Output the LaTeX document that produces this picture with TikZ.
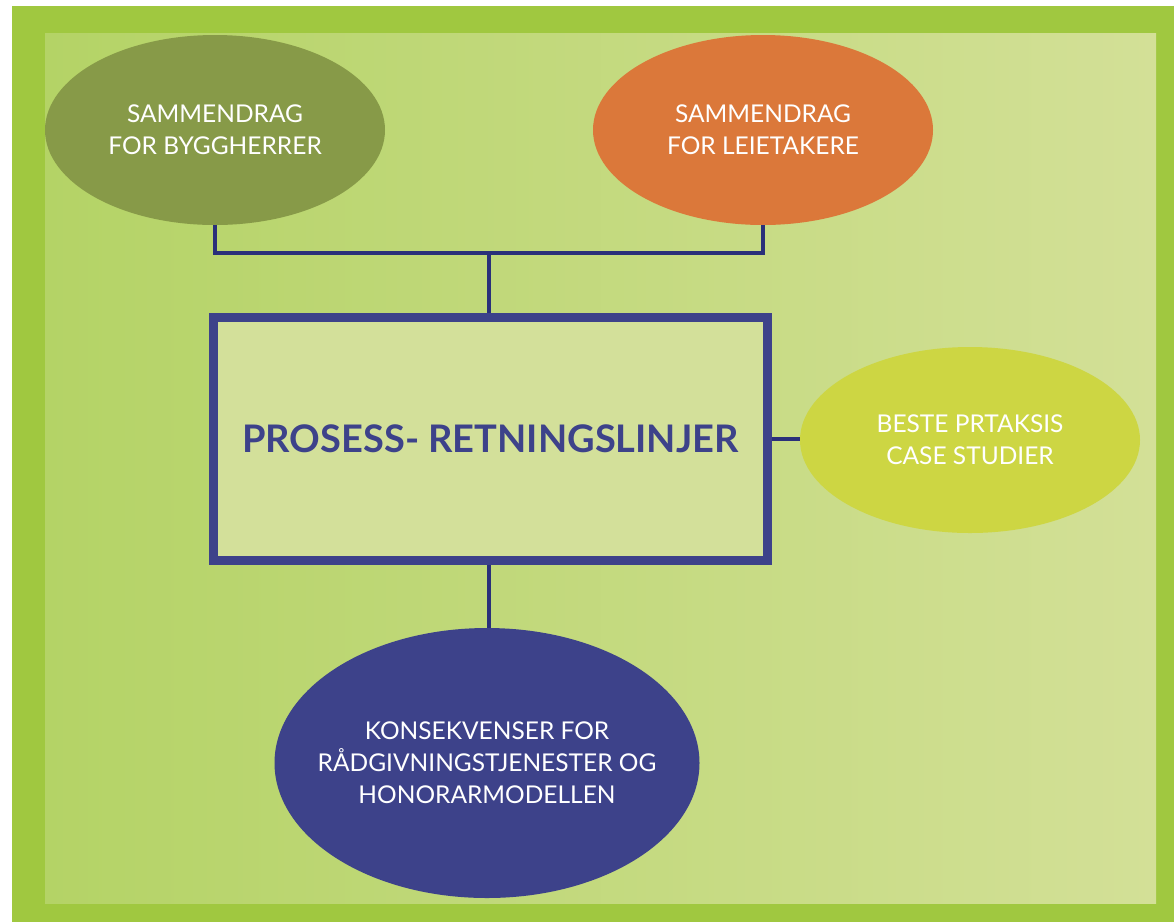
\documentclass[tikz,border=0pt]{standalone}
\usepackage{fontspec}
\setmainfont{Lato}
\usetikzlibrary{shapes.geometric}
\definecolor{outergreen}{HTML}{A0C840}
\definecolor{panelL}{HTML}{B4D366}
\definecolor{panelR}{HTML}{D3E097}
\definecolor{olive}{HTML}{879A48}
\definecolor{orangeb}{HTML}{DB783A}
\definecolor{limeb}{HTML}{CDD643}
\definecolor{navy}{HTML}{3D428A}
\definecolor{boxfill}{HTML}{D3E09A}
\definecolor{conn}{HTML}{2A307A}
\tikzset{
  x=1pt, y=-1pt,
  bubble/.style={ellipse, inner sep=0pt},
  btext/.style={text=white, align=center, inner sep=0pt,
    font=\fontsize{24.5}{32}\selectfont},
  mainbox/.style={draw=navy, line width=9pt, fill=boxfill, inner sep=0pt,
    minimum width=554pt, minimum height=243pt, text=navy,
    font=\fontsize{38}{44}\selectfont\bfseries},
  link/.style={draw=conn, line width=3.2pt}
}
\begin{document}
\begin{tikzpicture}
\useasboundingbox (0,0) rectangle (1174,922);
\fill[white] (0,0) rectangle (1174,922);
\fill[outergreen] (12,6) rectangle (1174,922);
\shade[left color=panelL, right color=panelR] (45,33) rectangle (1156,903);

\node[bubble, fill=olive, minimum width=340pt, minimum height=190pt] (lb) at (215,130) {};
\node[btext] (lbt) at (lb.center) {SAMMENDRAG\\FOR BYGGHERRER};
\node[bubble, fill=orangeb, minimum width=340pt, minimum height=190pt] (ob) at (763,130) {};
\node[btext] (obt) at (ob.center) {SAMMENDRAG\\FOR LEIETAKERE};
\node[mainbox] (main) at (490.5,439) {PROSESS- RETNINGSLINJER};
\node[bubble, fill=limeb, minimum width=340pt, minimum height=186pt] (cs) at (970,440) {};
\node[btext] (cst) at (cs.center) {BESTE PRTAKSIS\\CASE STUDIER};
\node[bubble, fill=navy, minimum width=425pt, minimum height=270pt] (kb) at (487,763) {};
\node[btext] (kbt) at (kb.center) {KONSEKVENSER FOR\\RÅDGIVNINGSTJENESTER OG\\HONORARMODELLEN};

\coordinate (jn) at (489,253);
\draw[link] (lb.south) |- (jn) -| (ob.south);
\draw[link] (jn) -- (jn |- main.north);
\draw[link] (main.east) -- (main.east -| cs.west);
\draw[link] (jn |- main.south) -- (jn |- kb.north);
\end{tikzpicture}
\end{document}
